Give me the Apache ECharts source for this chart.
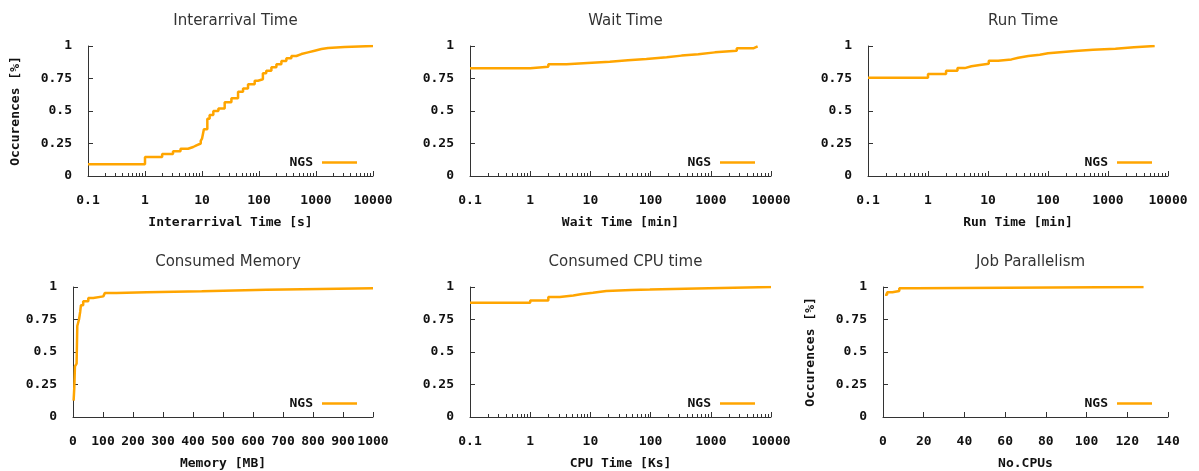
<!DOCTYPE html>
<html>
<head>
<meta charset="utf-8">
<script src="https://cdn.jsdelivr.net/npm/echarts@6/dist/echarts.min.js"></script>
<style>
  html, body { margin: 0; padding: 0; background: #fff; }
  #main { width: 1199px; height: 471px; }
</style>
</head>
<body>
<div id="main"></div>
<script>
// ECDF data (x = value, y = fraction)
var interX = [0.1, 1, 2, 3.1, 4.2, 5.7, 7, 8, 9.5, 10, 10.8, 12.4, 13.6, 15.8, 19.4, 25, 32.8, 42.9, 52.5, 64.2, 84, 96, 117, 134, 165, 202, 247, 302, 370, 453, 554, 725, 948, 1244, 1630, 3160, 10000];
var interY = [0.09, 0.146, 0.17, 0.19, 0.21, 0.223, 0.236, 0.25, 0.27, 0.287, 0.36, 0.44, 0.47, 0.5, 0.52, 0.567, 0.598, 0.649, 0.674, 0.705, 0.733, 0.744, 0.79, 0.81, 0.836, 0.859, 0.885, 0.905, 0.923, 0.938, 0.951, 0.964, 0.977, 0.985, 0.992, 1.0, 1.0];

var waitX = [0.1, 1, 2, 4, 9, 21, 42, 85, 185, 327, 620, 1170, 2700, 5070, 6000];
var waitY = [0.828, 0.841, 0.859, 0.869, 0.879, 0.89, 0.9, 0.913, 0.926, 0.936, 0.951, 0.964, 0.982, 0.997, 1.0];

var runX = [0.1, 1, 2, 3.1, 4.1, 5.3, 7.3, 10.3, 14.8, 24.6, 32, 47, 73, 100, 178, 280, 565, 1330, 2700, 6000];
var runY = [0.756, 0.785, 0.81, 0.83, 0.844, 0.854, 0.864, 0.887, 0.897, 0.91, 0.923, 0.933, 0.944, 0.954, 0.962, 0.972, 0.979, 0.99, 1.0, 1.0];

var memX = [2, 4.4, 6.5, 12, 14.3, 20, 24, 26.5, 34, 51, 67.5, 101, 106, 145, 246, 429, 645, 1000];
var memY = [0.126, 0.23, 0.39, 0.41, 0.7, 0.75, 0.81, 0.86, 0.89, 0.915, 0.928, 0.94, 0.953, 0.96, 0.967, 0.979, 0.99, 0.99];

var cpuX = [0.1, 1, 2, 3.1, 5.2, 7.3, 11, 18.4, 48, 97, 580, 10000];
var cpuY = [0.879, 0.897, 0.923, 0.935, 0.946, 0.956, 0.969, 0.977, 0.98, 0.989, 1.0, 1.0];

var parX = [1, 2, 4.6, 8, 16, 128];
var parY = [0.94, 0.96, 0.97, 0.99, 1.0, 1.0];

var titles = ['Interarrival Time', 'Wait Time', 'Run Time', 'Consumed Memory', 'Consumed CPU time', 'Job Parallelism'];
var xNames = ['Interarrival Time [s]', 'Wait Time [min]', 'Run Time [min]', 'Memory [MB]', 'CPU Time [Ks]', 'No.CPUs'];
var yName = 'Occurences [%]';

// minor tick positions for the log axes (2..9 in every decade)
var logMinor = [];
[0.1, 1, 10, 100, 1000].forEach(function (d) {
  for (var k = 2; k <= 9; k++) logMinor.push(+(d * k).toPrecision(3));
});

var panels = [
  { x: interX, y: interY, log: true,  grid: { left: 88,  top: 46,  width: 285, height: 130 }, yName: true },
  { x: waitX,  y: waitY,  log: true,  grid: { left: 470, top: 46,  width: 301, height: 130 } },
  { x: runX,   y: runY,   log: true,  grid: { left: 868, top: 46,  width: 300, height: 130 } },
  { x: memX,   y: memY,   log: false, grid: { left: 73,  top: 287, width: 300, height: 130 }, max: 1000, interval: 100 },
  { x: cpuX,   y: cpuY,   log: true,  grid: { left: 470, top: 287, width: 301, height: 130 } },
  { x: parX,   y: parY,   log: false, grid: { left: 883, top: 287, width: 285, height: 130 }, max: 140, interval: 20, yName: true }
];

var monoFont = { fontFamily: 'DejaVu Sans Mono', fontWeight: 'bold', fontSize: 13, color: '#111' };
var axisColor = '#333';
function plain(v) { return String(+v.toPrecision(6)); }

var option = { animation: false, title: [], grid: [], xAxis: [], yAxis: [], series: [], legend: [] };

panels.forEach(function (p, i) {
  var g = p.grid;
  option.grid.push({ left: g.left, top: g.top, width: g.width, height: g.height, containLabel: false, outerBoundsMode: 'none' });
  option.title.push({
    text: titles[i],
    left: g.left + g.width / 2,
    textAlign: 'center',
    top: g.top - 37,
    textStyle: { fontFamily: 'DejaVu Sans', fontWeight: 'normal', fontSize: 15, color: '#333' }
  });

  var xIndex = option.xAxis.length;
  var xa = {
    gridIndex: i,
    type: p.log ? 'log' : 'value',
    name: xNames[i],
    nameLocation: 'middle',
    nameGap: 40,
    nameTextStyle: monoFont,
    axisLine: { show: true, lineStyle: { color: axisColor, width: 1 } },
    axisTick: { show: true, inside: true, length: 5, lineStyle: { color: axisColor } },
    axisLabel: Object.assign({ margin: 18, formatter: plain }, monoFont),
    splitLine: { show: false }
  };
  if (p.log) {
    xa.logBase = 10; xa.min = 0.1; xa.max = 10000;
  } else {
    xa.min = 0; xa.max = p.max; xa.interval = p.interval;
  }
  option.xAxis.push(xa);

  if (p.log) {
    // overlaid axis carrying the minor ticks only
    option.xAxis.push({
      gridIndex: i, type: 'log', logBase: 10, min: 0.1, max: 10000,
      position: 'bottom', offset: 0,
      axisLine: { show: false },
      axisLabel: { show: false },
      axisTick: { show: true, inside: true, length: 3, customValues: logMinor, lineStyle: { color: axisColor } },
      splitLine: { show: false }
    });
  }

  option.yAxis.push({
    gridIndex: i,
    type: 'value',
    min: 0, max: 1, interval: 0.25,
    name: p.yName ? yName : '',
    nameLocation: 'middle',
    nameGap: 66,
    nameTextStyle: monoFont,
    axisLine: { show: true, lineStyle: { color: axisColor, width: 1 } },
    axisTick: { show: true, inside: true, length: 5, lineStyle: { color: axisColor } },
    axisLabel: Object.assign({ margin: 16 }, monoFont),
    splitLine: { show: false }
  });

  var data = p.x.map(function (v, k) { return [v, p.y[k]]; });
  option.series.push({
    name: 'NGS',
    type: 'line',
    xAxisIndex: xIndex,
    yAxisIndex: i,
    step: 'end',
    showSymbol: false,
    symbol: 'none',
    clip: true,
    lineStyle: { color: '#ffa500', width: 2.5 },
    itemStyle: { color: '#ffa500' },
    data: data
  });

  option.legend.push({
    data: [{ name: 'NGS', icon: 'rect' }],
    seriesIndex: i,
    right: 1199 - (g.left + g.width) + 16,
    top: g.top + 110,
    align: 'right',
    itemWidth: 35,
    itemHeight: 2.5,
    itemGap: 0,
    selectedMode: false,
    textStyle: Object.assign({ padding: [0, 4, 0, 0] }, monoFont),
    padding: 0
  });
});

var chart = echarts.init(document.getElementById('main'), null, { renderer: 'canvas' });
chart.setOption(option);
</script>
</body>
</html>
